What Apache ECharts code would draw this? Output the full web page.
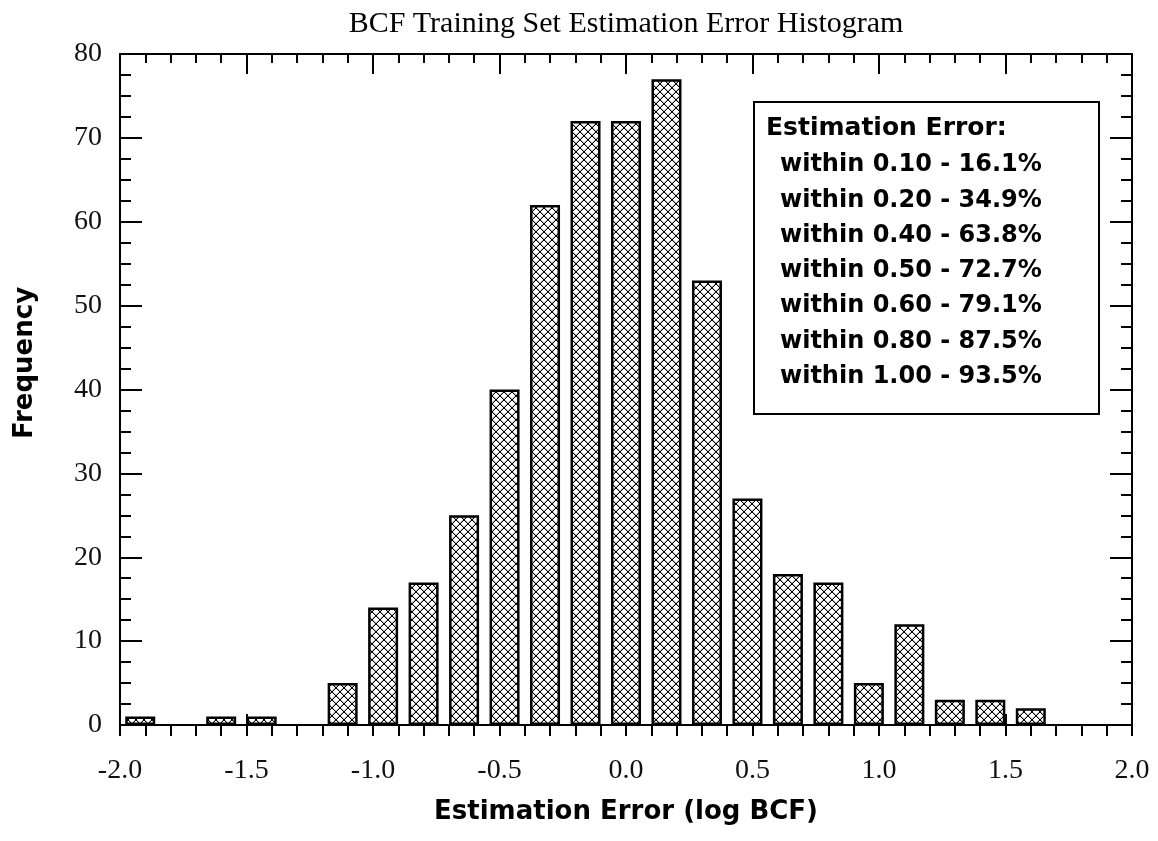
<!DOCTYPE html>
<html>
<head>
<meta charset="utf-8">
<script src="https://cdn.jsdelivr.net/npm/echarts@6/dist/echarts.min.js"></script>
<style>
html,body{margin:0;padding:0;background:#fff;}
#chart{width:1158px;height:841px;}
</style>
</head>
<body>
<div id="chart"></div>
<script>
// ---- data ----
const binCenters = [-1.92,-1.76,-1.60,-1.44,-1.28,-1.12,-0.96,-0.80,-0.64,-0.48,-0.32,-0.16,0.00,0.16,0.32,0.48,0.64,0.80,0.96,1.12,1.28,1.44,1.60];
const frequencies = [1,0,1,1,0,5,14,17,25,40,62,72,72,77,53,27,18,17,5,12,3,3,2];
const chartTitle = 'BCF Training Set Estimation Error Histogram';
const xName = 'Estimation Error (log BCF)';
const yName = 'Frequency';
const legendHeader = 'Estimation Error:';
const legendLines = [
  'within 0.10 - 16.1%',
  'within 0.20 - 34.9%',
  'within 0.40 - 63.8%',
  'within 0.50 - 72.7%',
  'within 0.60 - 79.1%',
  'within 0.80 - 87.5%',
  'within 1.00 - 93.5%'
];

// cross-hatch pattern tile
function makeHatch(){
  const c = document.createElement('canvas');
  c.width = 8; c.height = 8;
  const g = c.getContext('2d');
  g.fillStyle = '#fff'; g.fillRect(0,0,8,8);
  // soft neighbours to mimic the scaled original
  g.fillStyle = '#b0b0b0';
  for (let i = 0; i < 8; i++) {
    g.fillRect((i + 1) % 8, i, 1, 1);
    g.fillRect((7 - i + 7) % 8, i, 1, 1);
  }
  g.fillStyle = '#000';
  for (let i = 0; i < 8; i++) {
    g.fillRect(i, i, 1, 1);
    g.fillRect(7 - i, i, 1, 1);
  }
  return c;
}
const hatch = makeHatch();

const serif = '"Liberation Serif", "Times New Roman", serif';
const sans = '"DejaVu Sans", sans-serif';

const chart = echarts.init(document.getElementById('chart'));

const commonX = {type:'value', min:-2, max:2, interval:0.5, gridIndex:0};
const commonY = {type:'value', min:0, max:80, interval:10, gridIndex:0};
const line = {show:true, onZero:false, lineStyle:{color:'#000', width:2}};

const legendGraphics = [{
  type:'rect',
  shape:{x:754, y:102, width:345, height:312},
  style:{fill:'#fff', stroke:'#000', lineWidth:2},
  z:100
},{
  type:'text',
  style:{text:legendHeader, x:766, y:128, font:'bold 25px ' + sans, fill:'#000', textVerticalAlign:'middle'},
  z:101
}];
legendLines.forEach((t, i) => {
  legendGraphics.push({
    type:'text',
    style:{text:t, x:780, y:165 + i*35.3, font:'bold 24px ' + sans, fill:'#000', textVerticalAlign:'middle'},
    z:101
  });
});

const barData = binCenters.map((x, i) => {
  const item = {value:[x, frequencies[i]]};
  if (frequencies[i] === 0) item.itemStyle = {borderWidth:0, opacity:0};
  return item;
});

chart.setOption({
  animation:false,
  backgroundColor:'#fff',
  grid:{left:120, right:26, top:54, bottom:116, containLabel:false},
  xAxis:[
    Object.assign({}, commonX, {
      position:'bottom',
      name:xName, nameLocation:'middle', nameGap:74,
      nameTextStyle:{fontFamily:sans, fontWeight:'bold', fontSize:26, color:'#000'},
      axisLine:line,
      axisTick:{show:true, inside:false, length:11, lineStyle:{color:'#000', width:2}},
      minorTick:{show:true, splitNumber:5, length:11, lineStyle:{color:'#000', width:2}},
      axisLabel:{show:true, margin:32, fontFamily:serif, fontSize:28, color:'#111',
        formatter:v => v.toFixed(1)},
      splitLine:{show:false}
    }),
    Object.assign({}, commonX, {
      position:'top',
      axisLine:line,
      axisTick:{show:true, inside:true, length:20, lineStyle:{color:'#000', width:2}},
      minorTick:{show:true, splitNumber:5, length:9, lineStyle:{color:'#000', width:2}},
      axisLabel:{show:false},
      splitLine:{show:false}
    }),
    Object.assign({}, commonX, {
      position:'bottom',
      axisLine:{show:false, onZero:false},
      axisTick:{show:true, inside:true, length:11, lineStyle:{color:'#000', width:2}},
      axisLabel:{show:false},
      splitLine:{show:false}
    })
  ],
  yAxis:[
    Object.assign({}, commonY, {
      position:'left',
      axisLine:line,
      axisTick:{show:true, inside:true, length:22, lineStyle:{color:'#000', width:2}},
      minorTick:{show:true, splitNumber:4, length:11, lineStyle:{color:'#000', width:2}},
      axisLabel:{show:true, margin:18, fontFamily:serif, fontSize:28, color:'#111'},
      splitLine:{show:false}
    }),
    Object.assign({}, commonY, {
      position:'right',
      axisLine:line,
      axisTick:{show:true, inside:true, length:22, lineStyle:{color:'#000', width:2}},
      minorTick:{show:true, splitNumber:4, length:11, lineStyle:{color:'#000', width:2}},
      axisLabel:{show:false},
      splitLine:{show:false}
    })
  ],
  series:[{
    type:'bar',
    xAxisIndex:0, yAxisIndex:0,
    barWidth:30,
    data: barData,
    itemStyle:{color:{image:hatch, repeat:'repeat'}, borderColor:'#000', borderWidth:2.5},
    emphasis:{disabled:true}
  }],
  graphic:[{
    type:'text',
    style:{text:chartTitle, x:626, y:24, font:'30px ' + serif, fill:'#000', textAlign:'center', textVerticalAlign:'middle'}
  },{
    type:'text',
    rotation:Math.PI/2,
    x:25, y:363,
    style:{text:yName, x:0, y:0, font:'bold 26px ' + sans, fill:'#000', textAlign:'center', textVerticalAlign:'middle'}
  }].concat(legendGraphics)
});
</script>
</body>
</html>
